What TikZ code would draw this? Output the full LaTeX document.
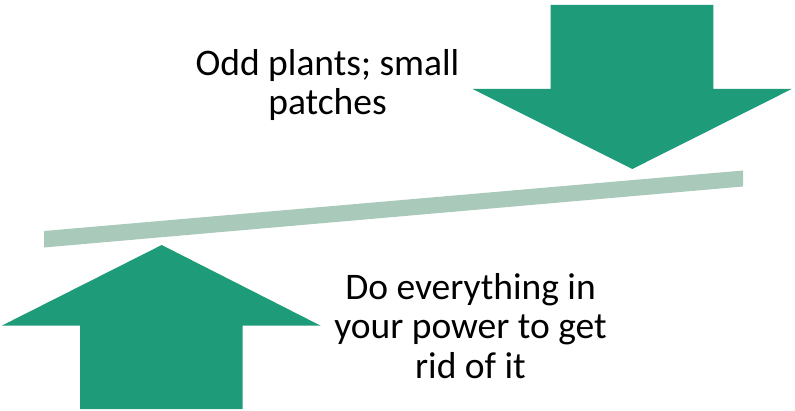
\documentclass[tikz,border=0pt]{standalone}
\usepackage{fontspec}
\setmainfont{Carlito}
\definecolor{arrowgreen}{HTML}{1E9B78}
\definecolor{barsage}{HTML}{A9C9BB}
\tikzset{
  bigarrow/.style={fill=arrowgreen, draw=none},
  beam/.style={fill=barsage, draw=none},
  label/.style={align=center, font=\fontsize{37.5}{39}\selectfont, inner sep=0pt}
}
\begin{document}
\begin{tikzpicture}[x=1pt,y=-1pt]
\useasboundingbox (0,0) rectangle (795,411);
% beam
\fill[beam] (44,231) -- (743,170.5) -- (743,186.5) -- (44,247.5) -- cycle;
% up arrow
\fill[bigarrow] (161.7,245) -- (320.7,325.7) -- (242.7,325.7) -- (242.7,409) -- (80,409) -- (80,325.7) -- (1.7,325.7) -- cycle;
% down arrow
\fill[bigarrow] (550.7,5) -- (713.3,5) -- (713.3,89) -- (791.7,89) -- (632.3,169) -- (472.7,89) -- (550.7,89) -- cycle;
\node[label, anchor=base] (top1) at (327.5,76) {Odd plants; small};
\node[label, anchor=base] (top2) at (327.5,114.5) {patches};
\node[label, anchor=base] (bot1) at (470.5,299.5) {Do everything in};
\node[label, anchor=base] (bot2) at (470.5,338.5) {your power to get};
\node[label, anchor=base] (bot3) at (470.5,378.5) {rid of it};
\end{tikzpicture}
\end{document}
